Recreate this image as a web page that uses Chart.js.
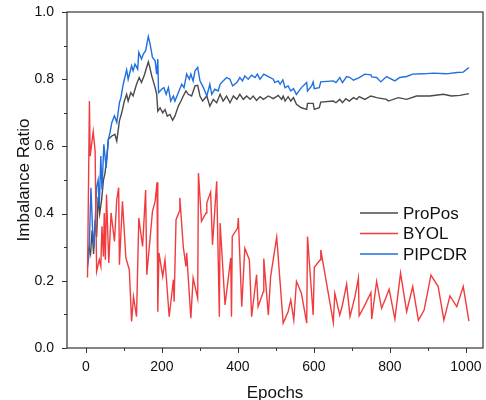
<!DOCTYPE html>
<html>
<head>
<meta charset="utf-8">
<script src="https://cdn.jsdelivr.net/npm/chart.js@4"></script>
<style>
  body { margin: 0; background: #fff; }
  #wrap { width: 486px; height: 400px; }
</style>
</head>
<body>
<div id="wrap"><canvas id="chart" width="486" height="400"></canvas></div>
<script>
// ProPos (gray)
const proposEpochs = [4, 8, 12, 16, 20, 24, 28, 32, 36, 41, 46, 50, 54, 59, 68, 76, 81, 88, 94, 101, 107, 111, 118, 124, 133, 140, 146, 153, 157, 164, 168, 173, 182, 186, 189, 195, 202, 208, 214, 221, 228, 234, 243, 250, 256, 263, 269, 278, 287, 294, 300, 307, 318, 326, 335, 344, 353, 361, 370, 379, 388, 397, 405, 414, 423, 432, 440, 449, 458, 467, 480, 493, 506, 515, 519, 524, 532, 539, 546, 554, 567, 581, 583, 598, 601, 614, 618, 651, 658, 668, 675, 684, 693, 704, 713, 719, 734, 750, 765, 791, 796, 822, 844, 870, 905, 941, 962, 984, 1008];
const proposValues = [0.27, 0.30, 0.28, 0.35, 0.28, 0.38, 0.33, 0.45, 0.40, 0.44, 0.50, 0.52, 0.56, 0.621, 0.631, 0.636, 0.616, 0.676, 0.70, 0.735, 0.755, 0.735, 0.76, 0.75, 0.785, 0.805, 0.79, 0.81, 0.825, 0.852, 0.835, 0.81, 0.775, 0.755, 0.705, 0.715, 0.70, 0.71, 0.69, 0.695, 0.678, 0.69, 0.72, 0.735, 0.75, 0.765, 0.755, 0.75, 0.78, 0.782, 0.75, 0.735, 0.75, 0.72, 0.74, 0.73, 0.755, 0.735, 0.75, 0.73, 0.75, 0.74, 0.755, 0.74, 0.75, 0.74, 0.75, 0.737, 0.748, 0.74, 0.75, 0.742, 0.752, 0.74, 0.75, 0.735, 0.748, 0.735, 0.745, 0.725, 0.715, 0.71, 0.728, 0.728, 0.71, 0.715, 0.732, 0.735, 0.73, 0.74, 0.73, 0.742, 0.735, 0.745, 0.74, 0.748, 0.74, 0.75, 0.745, 0.74, 0.735, 0.745, 0.74, 0.75, 0.75, 0.755, 0.75, 0.752, 0.757];

// BYOL (red)
const byolEpochs = [4, 9, 11, 19, 24, 28, 35, 39, 42, 46, 48, 51, 54, 60, 66, 75, 81, 86, 88, 96, 105, 114, 120, 125, 133, 139, 149, 157, 160, 168, 175, 182, 187, 189, 192, 202, 208, 219, 230, 232, 237, 246, 247, 256, 263, 265, 276, 282, 294, 296, 304, 316, 318, 328, 333, 344, 351, 353, 366, 381, 383, 385, 399, 401, 410, 418, 430, 436, 449, 453, 467, 468, 480, 486, 502, 519, 532, 539, 547, 554, 567, 581, 583, 598, 601, 616, 618, 651, 655, 668, 675, 686, 695, 708, 717, 719, 732, 750, 752, 765, 778, 787, 798, 813, 828, 844, 860, 875, 890, 908, 927, 942, 958, 976, 993, 1008];
const byolValues = [0.21, 0.735, 0.571, 0.644, 0.586, 0.228, 0.263, 0.243, 0.362, 0.272, 0.402, 0.263, 0.457, 0.253, 0.402, 0.317, 0.442, 0.477, 0.248, 0.437, 0.268, 0.233, 0.079, 0.153, 0.093, 0.387, 0.302, 0.47, 0.218, 0.317, 0.407, 0.437, 0.493, 0.108, 0.283, 0.213, 0.263, 0.093, 0.203, 0.138, 0.382, 0.407, 0.447, 0.302, 0.243, 0.283, 0.089, 0.208, 0.148, 0.521, 0.377, 0.402, 0.432, 0.464, 0.307, 0.496, 0.093, 0.372, 0.128, 0.268, 0.093, 0.332, 0.357, 0.387, 0.123, 0.297, 0.263, 0.093, 0.218, 0.123, 0.168, 0.266, 0.098, 0.213, 0.33, 0.074, 0.108, 0.143, 0.083, 0.198, 0.163, 0.074, 0.332, 0.098, 0.24, 0.262, 0.292, 0.076, 0.163, 0.098, 0.128, 0.19, 0.094, 0.153, 0.208, 0.096, 0.123, 0.165, 0.086, 0.198, 0.118, 0.143, 0.175, 0.086, 0.223, 0.108, 0.183, 0.082, 0.113, 0.217, 0.183, 0.083, 0.155, 0.123, 0.183, 0.08];

// PIPCDR (blue)
const pipcdrEpochs = [4, 8, 13, 17, 21, 25, 28, 32, 35, 39, 42, 47, 53, 59, 63, 68, 75, 81, 88, 92, 98, 107, 111, 120, 124, 129, 136, 139, 146, 151, 157, 164, 168, 175, 182, 186, 189, 191, 199, 205, 211, 217, 223, 230, 234, 243, 252, 258, 265, 272, 276, 282, 287, 294, 300, 309, 318, 326, 331, 339, 348, 353, 361, 370, 379, 386, 397, 405, 412, 418, 427, 436, 445, 451, 458, 468, 480, 493, 497, 506, 511, 518, 524, 532, 539, 546, 554, 567, 581, 583, 594, 598, 601, 614, 618, 651, 658, 668, 675, 686, 695, 704, 719, 734, 750, 752, 765, 776, 791, 813, 826, 844, 860, 888, 914, 949, 976, 993, 1008];
const pipcdrValues = [0.24, 0.28, 0.477, 0.36, 0.30, 0.40, 0.48, 0.50, 0.42, 0.571, 0.472, 0.606, 0.536, 0.621, 0.64, 0.671, 0.691, 0.671, 0.73, 0.745, 0.785, 0.828, 0.80, 0.84, 0.825, 0.845, 0.83, 0.88, 0.86, 0.875, 0.885, 0.927, 0.909, 0.865, 0.855, 0.815, 0.86, 0.76, 0.77, 0.775, 0.755, 0.775, 0.735, 0.75, 0.735, 0.76, 0.785, 0.775, 0.815, 0.80, 0.815, 0.795, 0.825, 0.835, 0.795, 0.775, 0.75, 0.785, 0.755, 0.77, 0.765, 0.785, 0.795, 0.805, 0.80, 0.78, 0.79, 0.805, 0.795, 0.81, 0.80, 0.812, 0.805, 0.815, 0.80, 0.815, 0.808, 0.80, 0.79, 0.795, 0.785, 0.798, 0.775, 0.78, 0.765, 0.772, 0.755, 0.775, 0.79, 0.765, 0.78, 0.792, 0.772, 0.775, 0.792, 0.795, 0.79, 0.805, 0.79, 0.808, 0.805, 0.797, 0.805, 0.815, 0.813, 0.807, 0.805, 0.792, 0.808, 0.795, 0.805, 0.808, 0.815, 0.816, 0.818, 0.816, 0.82, 0.821, 0.835];

const xTickValues = [0, 200, 400, 600, 800, 1000];
const yTickValues = [0.0, 0.2, 0.4, 0.6, 0.8, 1.0];

const FONT = "'Liberation Sans', Arial, sans-serif";

function toPoints(xs, ys) {
    return xs.map((x, i) => ({ x: x, y: ys[i] }));
}

// frame, outward ticks (major + minor) and the legend inside the plot
const framePlugin = {
    id: 'frame',
    afterDraw(chart) {
        const { ctx, chartArea: a, scales } = chart;
        ctx.save();
        ctx.strokeStyle = '#333';
        ctx.lineWidth = 1.2;
        ctx.strokeRect(a.left, a.top, a.right - a.left, a.bottom - a.top);

        ctx.lineWidth = 1;
        for (let v = 0; v <= 1000; v += 100) {
            const px = Math.round(scales.x.getPixelForValue(v)) + 0.5;
            const len = v % 200 === 0 ? 5 : 3;
            ctx.beginPath();
            ctx.moveTo(px, a.bottom);
            ctx.lineTo(px, a.bottom + len);
            ctx.stroke();
        }
        for (let i = 0; i <= 10; i++) {
            const py = Math.round(scales.y.getPixelForValue(i / 10)) + 0.5;
            const len = i % 2 === 0 ? 5 : 3;
            ctx.beginPath();
            ctx.moveTo(a.left, py);
            ctx.lineTo(a.left - len, py);
            ctx.stroke();
        }

        // legend
        const lx = a.right - 123;
        let ly = 213;
        ctx.font = '17px ' + FONT;
        ctx.textBaseline = 'middle';
        chart.data.datasets.forEach(ds => {
            ctx.strokeStyle = ds.borderColor;
            ctx.lineWidth = 1.5;
            ctx.beginPath();
            ctx.moveTo(lx, ly);
            ctx.lineTo(lx + 38, ly);
            ctx.stroke();
            ctx.fillStyle = '#111';
            ctx.fillText(ds.label, lx + 43, ly + 1);
            ly += 20.5;
        });
        ctx.restore();
    }
};

const ctx = document.getElementById('chart').getContext('2d');
const chart = new Chart(ctx, {
    type: 'line',
    data: {
        datasets: [
            {
                label: 'ProPos',
                data: toPoints(proposEpochs, proposValues),
                borderColor: '#4a4a4a',
                borderWidth: 1.4,
                pointRadius: 0,
                tension: 0,
                order: 3
            },
            {
                label: 'BYOL',
                data: toPoints(byolEpochs, byolValues),
                borderColor: '#f03c3f',
                borderWidth: 1.4,
                pointRadius: 0,
                tension: 0,
                order: 1
            },
            {
                label: 'PIPCDR',
                data: toPoints(pipcdrEpochs, pipcdrValues),
                borderColor: '#1f6fe0',
                borderWidth: 1.4,
                pointRadius: 0,
                tension: 0,
                order: 2
            }
        ]
    },
    options: {
        responsive: false,
        animation: false,
        layout: { padding: { top: 12, right: 3, left: 0, bottom: 0 } },
        plugins: {
            legend: { display: false },
            tooltip: { enabled: false }
        },
        scales: {
            x: {
                type: 'linear',
                min: -50,
                max: 1045,
                afterBuildTicks: scale => {
                    scale.ticks = xTickValues.map(v => ({ value: v }));
                },
                afterFit: scale => {
                    scale.height = 52;
                    scale.paddingLeft = 0;
                    scale.paddingRight = 0;
                },
                grid: { display: false, drawTicks: false },
                border: { display: false },
                ticks: {
                    color: '#111',
                    padding: 11,
                    font: { family: FONT, size: 14 },
                    callback: v => String(v)
                },
                title: {
                    display: true,
                    text: 'Epochs',
                    color: '#111',
                    font: { family: FONT, size: 17 },
                    padding: { top: 0, bottom: -4 }
                }
            },
            y: {
                min: 0,
                max: 1,
                afterBuildTicks: scale => {
                    scale.ticks = yTickValues.map(v => ({ value: v }));
                },
                afterFit: scale => {
                    scale.width = 67;
                    scale.paddingTop = 0;
                    scale.paddingBottom = 0;
                },
                grid: { display: false, drawTicks: false },
                border: { display: false },
                ticks: {
                    color: '#111',
                    padding: 13,
                    font: { family: FONT, size: 14 },
                    callback: v => v.toFixed(1)
                },
                title: {
                    display: true,
                    text: 'Imbalance Ratio',
                    color: '#111',
                    font: { family: FONT, size: 17 },
                    padding: { top: 14, bottom: 0 }
                }
            }
        }
    },
    plugins: [framePlugin]
});
</script>
</body>
</html>
